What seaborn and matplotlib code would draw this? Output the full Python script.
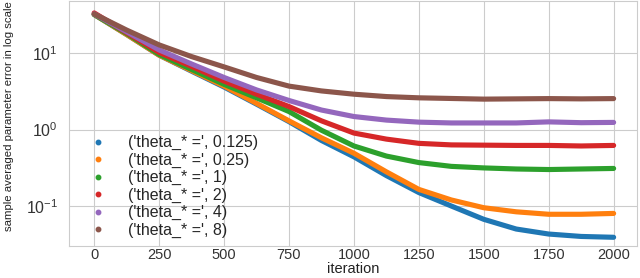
import pandas as pd
import matplotlib
matplotlib.use("Agg")
import matplotlib.pyplot as plt
from matplotlib.lines import Line2D
import seaborn as sns

# values (error per iteration, log scale)
iterations = [0, 125, 250, 375, 500, 625, 750, 875, 1000, 1125, 1250,
              1375, 1500, 1625, 1750, 1875, 2000]
err_0125 = [32, 17.5, 9.4, 5.8, 3.6, 2.15, 1.27, 0.72, 0.44, 0.25, 0.15,
            0.10, 0.067, 0.050, 0.043, 0.040, 0.039]
err_025 = [32, 17.5, 9.4, 5.9, 3.7, 2.2, 1.3, 0.78, 0.49, 0.28, 0.165,
           0.12, 0.095, 0.084, 0.078, 0.078, 0.080]
err_1 = [32, 18, 9.6, 6.1, 3.9, 2.6, 1.72, 0.98, 0.61, 0.45, 0.37,
         0.33, 0.315, 0.305, 0.30, 0.305, 0.31]
err_2 = [33.5, 18.5, 10.2, 6.7, 4.3, 2.9, 2.0, 1.3, 0.90, 0.75, 0.66,
         0.63, 0.625, 0.62, 0.62, 0.61, 0.62]
err_4 = [32.5, 19, 11, 7.2, 4.8, 3.3, 2.4, 1.8, 1.48, 1.33, 1.25,
         1.22, 1.22, 1.22, 1.26, 1.23, 1.24]
err_8 = [32.5, 20, 12.8, 9.0, 6.6, 4.8, 3.7, 3.2, 2.9, 2.7, 2.6,
         2.55, 2.5, 2.52, 2.54, 2.52, 2.54]

thetas = ["0.125", "0.25", "1", "2", "4", "8"]
series = [err_0125, err_025, err_1, err_2, err_4, err_8]
labels = ["('theta_* =', %s)" % t for t in thetas]
colors = ["#1f77b4", "#ff7f0e", "#2ca02c", "#d62728", "#9467bd", "#8c564b"]

rows = []
for lab, vals in zip(labels, series):
    for it, v in zip(iterations, vals):
        rows.append({"iteration": it, "error": v, "theta": lab})
df = pd.DataFrame(rows)

sns.set_style("whitegrid")
plt.rcParams["font.family"] = ["Liberation Sans", "DejaVu Sans"]
plt.rcParams["mathtext.fontset"] = "custom"
plt.rcParams["mathtext.rm"] = "Liberation Sans"
plt.rcParams["mathtext.it"] = "Liberation Sans:italic"

fig = plt.figure(figsize=(6.4, 2.78), dpi=100)
ax = fig.add_axes([69 / 640, 1 - 246 / 278, 568 / 640, 245 / 278])

sns.lineplot(data=df, x="iteration", y="error", hue="theta",
             palette=colors, linewidth=3.7, legend=False, ax=ax,
             solid_capstyle="round", solid_joinstyle="round")

ax.set_yscale("log")
ax.set_xlim(-97, 2090)
ax.set_ylim(0.03, 48)
ax.set_xticks(range(0, 2001, 250))
ax.set_yticks([0.1, 1, 10])
ax.minorticks_off()
ax.tick_params(axis="both", colors="#333333", length=0)
ax.tick_params(axis="y", pad=8, labelsize=11.5)
ax.tick_params(axis="x", pad=1.2, labelsize=10.5)
for s in ax.spines.values():
    s.set_color("#cccccc")

ax.set_xlabel("iteration", fontsize=10.5, color="#222222")
ax.xaxis.set_label_coords(0.5, -0.066)
ax.set_ylabel("sample averaged parameter error in log scale",
              fontsize=8.2, color="#222222")
ax.yaxis.set_label_coords(-0.097, 0.53)

handles = [Line2D([], [], linestyle="none", marker="o", markersize=3.2,
                  color=c) for c in colors]
ax.legend(handles, labels, loc="lower left", bbox_to_anchor=(0.02, 0.0),
          frameon=False, fontsize=11.5, labelspacing=0.15,
          handletextpad=1.3, borderaxespad=0.1, handlelength=1.2)

fig.savefig("out.png", dpi=100)
